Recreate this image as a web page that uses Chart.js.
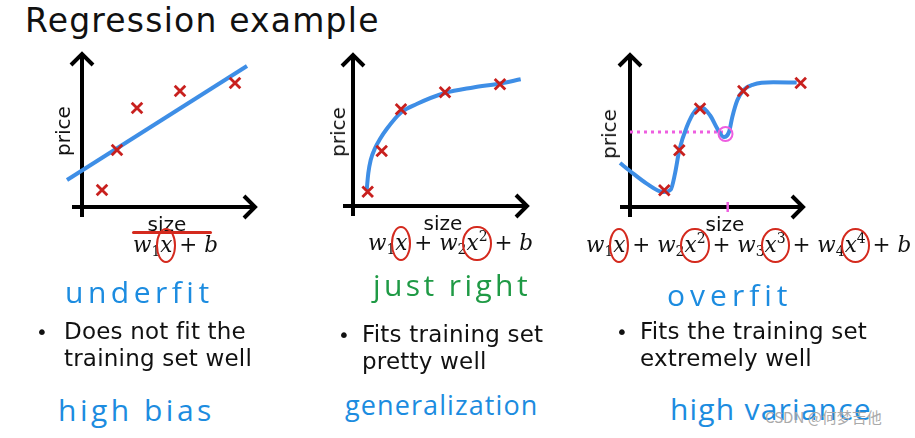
<!DOCTYPE html>
<html>
<head>
<meta charset="utf-8">
<script src="https://cdn.jsdelivr.net/npm/chart.js@4"></script>
<style>
  html,body{margin:0;padding:0;background:#fff;}
  body{width:915px;height:438px;position:relative;overflow:hidden;font-family:"DejaVu Sans",sans-serif;}
  .abs{position:absolute;white-space:nowrap;line-height:1;}
  canvas{position:absolute;}
  .title{left:25px;top:4px;font-size:33px;letter-spacing:1.2px;color:#111;}
  .lbl{font-size:20px;color:#111;}
  .rot{transform:translate(-50%,-50%) rotate(-90deg);}
  .ctr{transform:translate(-50%,-50%);}
  .f{font-family:"DejaVu Serif","Liberation Serif",serif;font-size:21.5px;color:#111;}
  .f i{font-style:italic;}
  .f sub{font-size:14px;vertical-align:-4px;line-height:0;}
  .f sup{font-size:14px;vertical-align:9px;line-height:0;}
  .rx{position:relative;display:inline-block;}
  .rx::after{content:'';position:absolute;left:-4px;right:-4px;top:-6px;bottom:-7px;border:2px solid #d42a1e;border-radius:50%;}
  .hw{font-family:"Open Sans",sans-serif;font-weight:400;font-size:30px;color:#1c8ce0;}
  .bul{font-family:"DejaVu Sans",sans-serif;font-size:23px;letter-spacing:0.2px;color:#111;line-height:27px;}
  .dot{font-size:20px;}
  .wm{font-family:"Noto Sans CJK SC","DejaVu Sans",sans-serif;font-size:15px;color:#aaa;}
</style>
</head>
<body>
<div class="abs title">Regression example</div>

<canvas id="c1" width="220" height="180" style="left:50px;top:45px;width:220px;height:180px"></canvas>
<canvas id="c2" width="210" height="180" style="left:330px;top:45px;width:210px;height:180px"></canvas>
<canvas id="c3" width="220" height="180" style="left:600px;top:45px;width:220px;height:180px"></canvas>

<div class="abs lbl rot" style="left:63px;top:131px">price</div>
<div class="abs lbl rot" style="left:338px;top:132px">price</div>
<div class="abs lbl rot" style="left:609px;top:134px">price</div>
<div class="abs lbl ctr" style="left:167px;top:224px">size</div>
<div class="abs lbl ctr" style="left:443px;top:223px">size</div>
<div class="abs lbl ctr" style="left:725px;top:224px">size</div>

<div class="abs f" style="left:133px;top:234px"><i>w</i><sub>1</sub><span class="rx"><i>x</i></span> + <i>b</i></div>
<div class="abs f" style="left:368px;top:232px"><i>w</i><sub>1</sub><span class="rx"><i>x</i></span> + <i>w</i><sub>2</sub><span class="rx"><i>x</i><sup>2</sup></span> + <i>b</i></div>
<div class="abs f" style="left:586px;top:234px"><i>w</i><sub>1</sub><span class="rx"><i>x</i></span> + <i>w</i><sub>2</sub><span class="rx"><i>x</i><sup>2</sup></span> + <i>w</i><sub>3</sub><span class="rx"><i>x</i><sup>3</sup></span> + <i>w</i><sub>4</sub><span class="rx"><i>x</i><sup>4</sup></span> + <i>b</i></div>

<div style="position:absolute;left:132px;top:231px;width:80px;height:3px;background:#d42a1e;border-radius:2px"></div>

<div class="abs hw" style="left:65px;top:277px;letter-spacing:4.5px">underfit</div>
<div class="abs hw" style="left:373px;top:270px;letter-spacing:3.4px;color:#1f9a45">just right</div>
<div class="abs hw" style="left:667px;top:280px;letter-spacing:5px">overfit</div>
<div class="abs hw" style="left:58px;top:395px;letter-spacing:3.5px">high bias</div>
<div class="abs hw" style="left:345px;top:391px;font-size:27px;letter-spacing:1.1px">generalization</div>
<div class="abs hw" style="left:670px;top:394px;letter-spacing:1.2px">high variance</div>

<div class="abs bul" style="left:36px;top:318px"><span class="dot">•</span></div>
<div class="abs bul" style="left:64px;top:318px">Does not fit the<br>training set well</div>
<div class="abs bul" style="left:338px;top:321px"><span class="dot">•</span></div>
<div class="abs bul" style="left:362px;top:321px">Fits training set<br>pretty well</div>
<div class="abs bul" style="left:616px;top:318px"><span class="dot">•</span></div>
<div class="abs bul" style="left:640px;top:318px">Fits the training set<br>extremely well</div>

<div class="abs wm" style="left:765px;top:409px">CSDN @何梦吉他</div>

<script>
// ---- data (size, price) in arbitrary units; origin of each plot at (0,0) ----
const fit1X = [-1.5, 16.5];
const fit1Y = [2.7, 14.1];
const pts1X = [2.0, 3.5, 5.5, 9.8, 15.3];
const pts1Y = [1.7, 5.7, 9.9, 11.6, 12.4];

const fit2X = [1.37, 1.53, 1.77, 2.2, 2.7, 3.37, 4.8, 6.37, 9.2, 12.03, 14.7, 16.77];
const fit2Y = [1.6, 3.27, 4.6, 5.77, 6.7, 7.7, 9.35, 10.2, 11.3, 11.85, 12.25, 12.67];
const pts2X = [1.47, 2.87, 4.8, 9.2, 14.7];
const pts2Y = [1.43, 5.5, 9.67, 11.37, 12.17];

const fit3X = [-1.0, 0.0, 1.67, 3.33, 4.07, 4.5, 4.93, 5.67, 6.5, 7.17, 8.0, 8.83, 9.4, 9.9, 10.23, 10.73, 11.33, 12.33, 14.33, 16.67];
const fit3Y = [4.4, 3.6, 2.34, 1.5, 1.74, 3.34, 5.67, 8.0, 9.6, 9.94, 9.17, 7.67, 7.0, 7.5, 9.0, 10.67, 11.67, 12.24, 12.47, 12.44];
const pts3X = [3.43, 4.93, 7.0, 11.33, 17.07];
const pts3Y = [1.67, 5.67, 9.84, 11.6, 12.4];

const probeX = [0, 9.3];   // dotted guide in overfit plot
const probeY = [7.5, 7.5];
const probeCircleX = [9.55];
const probeCircleY = [7.3];
const probeTickX = [9.77];

const zip = (xs, ys) => xs.map((x, i) => ({x, y: ys[i]}));

const BLUE = '#3e8ee6', RED = '#c8201e', PINK = '#ee5ee0';

const axesPlugin = {
  id: 'arrowAxes',
  beforeDatasetsDraw(chart, args, opts) {
    const {ctx, scales:{x, y}} = chart;
    const x0 = x.getPixelForValue(0), y0 = y.getPixelForValue(0);
    const xs = x.getPixelForValue(-1), xe = x.getPixelForValue(opts.xEnd);
    const ys = y.getPixelForValue(-1), ye = y.getPixelForValue(opts.yEnd);
    ctx.save();
    ctx.strokeStyle = '#000'; ctx.lineWidth = 4; ctx.lineCap = 'butt'; ctx.lineJoin = 'miter';
    ctx.beginPath(); ctx.moveTo(xs, y0); ctx.lineTo(xe, y0); ctx.stroke();
    ctx.beginPath(); ctx.moveTo(x0, ys); ctx.lineTo(x0, ye); ctx.stroke();
    const a = 11;
    ctx.beginPath(); ctx.moveTo(xe - a, y0 - a); ctx.lineTo(xe, y0); ctx.lineTo(xe - a, y0 + a); ctx.stroke();
    ctx.beginPath(); ctx.moveTo(x0 - a, ye + a); ctx.lineTo(x0, ye); ctx.lineTo(x0 + a, ye + a); ctx.stroke();
    if (opts.tickX !== undefined) {
      const tx = x.getPixelForValue(opts.tickX);
      ctx.strokeStyle = PINK; ctx.lineWidth = 2.5;
      ctx.beginPath(); ctx.moveTo(tx, y.getPixelForValue(0.5)); ctx.lineTo(tx, y.getPixelForValue(-0.5)); ctx.stroke();
    }
    ctx.restore();
  }
};

function makeChart(id, fitX, fitY, ptsX, ptsY, range, axisOpts, extra, curved) {
  const datasets = [];
  (extra || []).forEach(d => datasets.push(d));
  datasets.push({
    data: zip(fitX, fitY), showLine: true, borderColor: BLUE, borderWidth: 4,
    pointRadius: 0, cubicInterpolationMode: curved ? 'monotone' : 'default', tension: 0, order: 2
  });
  datasets.push({
    data: zip(ptsX, ptsY), showLine: false, pointStyle: 'crossRot', pointRadius: 7.5,
    borderColor: RED, pointBorderWidth: 2.8, order: 1
  });
  return new Chart(document.getElementById(id), {
    type: 'scatter',
    data: { datasets },
    options: {
      responsive: false, animation: false, events: [],
      layout: { padding: 0, autoPadding: false },
      plugins: { legend: {display: false}, tooltip: {enabled: false}, arrowAxes: axisOpts },
      scales: {
        x: { type: 'linear', display: false, min: range[0], max: range[1] },
        y: { type: 'linear', display: false, min: range[2], max: range[3] }
      }
    },
    plugins: [axesPlugin]
  });
}

makeChart('c1', fit1X, fit1Y, pts1X, pts1Y, [-3.2, 18.8, -1.8, 16.2], {xEnd: 17.3, yEnd: 15.3}, null, false);
makeChart('c2', fit2X, fit2Y, pts2X, pts2Y, [-2.3, 18.7, -1.9, 16.1], {xEnd: 17.4, yEnd: 15.1}, null, true);
makeChart('c3', fit3X, fit3Y, pts3X, pts3Y, [-3.0, 19.0, -1.8, 16.2], {xEnd: 17.3, yEnd: 15.2, tickX: probeTickX[0]}, [
  { data: zip(probeX, probeY), showLine: true, borderColor: PINK, borderWidth: 3, borderDash: [3, 4], pointRadius: 0, order: 3 },
  { data: zip(probeCircleX, probeCircleY), showLine: false, pointStyle: 'circle', pointRadius: 7, borderColor: PINK, pointBorderWidth: 2, backgroundColor: 'rgba(0,0,0,0)', order: 0 }
], true);
</script>
</body>
</html>
